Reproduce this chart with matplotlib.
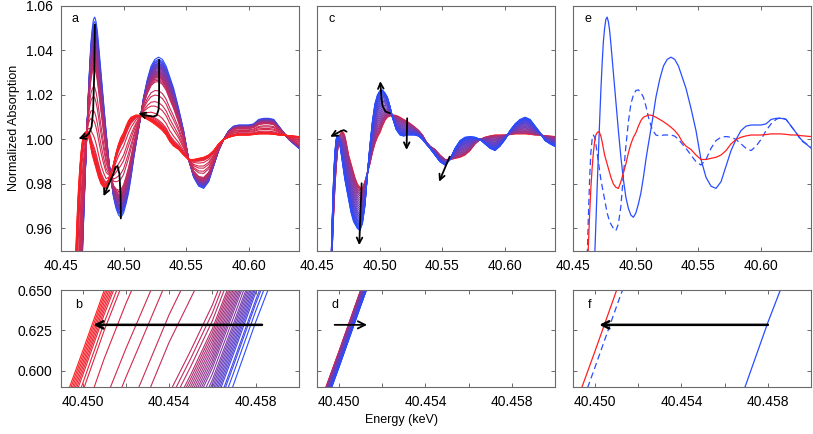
import numpy as np
import matplotlib
matplotlib.use("Agg")
import matplotlib.pyplot as plt

plt.rcParams.update({"font.family": ["Liberation Sans", "DejaVu Sans"], "font.size": 10})

# energy grid (keV) shared by the three reference spectra
E_KEV = [40.440, 40.445, 40.447, 40.448, 40.449, 40.450, 40.451, 40.452, 40.453, 40.454,
         40.455, 40.456, 40.457, 40.458, 40.459, 40.460, 40.461, 40.462, 40.463, 40.464,
         40.465, 40.466, 40.467, 40.468, 40.469, 40.470, 40.471, 40.472, 40.473, 40.474,
         40.475, 40.476, 40.477, 40.478, 40.479, 40.480, 40.482, 40.484, 40.486, 40.488,
         40.490, 40.492, 40.494, 40.496, 40.498, 40.500, 40.502, 40.504, 40.506, 40.508,
         40.510, 40.513, 40.516, 40.519, 40.522, 40.525, 40.528, 40.531, 40.534, 40.537,
         40.540, 40.544, 40.548, 40.552, 40.556, 40.560, 40.564, 40.568, 40.572, 40.576,
         40.580, 40.584, 40.588, 40.592, 40.596, 40.600, 40.604, 40.608, 40.612, 40.616,
         40.620, 40.624, 40.628, 40.632, 40.636, 40.640]

# first spectrum (solid blue)
spec_start = [0.10, 0.20, 0.26, 0.29, 0.33, 0.36, 0.40, 0.43, 0.465, 0.50,
              0.525, 0.555, 0.592, 0.630, 0.665, 0.700, 0.740, 0.780, 0.820, 0.860,
              0.895, 0.925, 0.946, 0.962, 0.978, 0.993, 1.008, 1.022, 1.034, 1.044,
              1.050, 1.054, 1.055, 1.053, 1.049, 1.043, 1.030, 1.017, 1.004, 0.992,
              0.982, 0.974, 0.969, 0.966, 0.965, 0.967, 0.971, 0.976, 0.983, 0.991,
              0.998, 1.008, 1.019, 1.027, 1.033, 1.036, 1.037, 1.036, 1.033, 1.028,
              1.023, 1.014, 1.004, 0.991, 0.983, 0.979, 0.978, 0.981, 0.988, 0.995,
              1.000, 1.004, 1.006, 1.0065, 1.0065, 1.0065, 1.007, 1.009, 1.0095, 1.0095,
              1.009, 1.006, 1.003, 1.000, 0.998, 0.996]
# intermediate spectrum (red)
spec_mid = [0.25, 0.40, 0.47, 0.52, 0.575, 0.612, 0.650, 0.685, 0.715, 0.745,
            0.775, 0.800, 0.830, 0.858, 0.886, 0.912, 0.934, 0.952, 0.966, 0.978,
            0.987, 0.994, 0.999, 1.002, 1.003, 1.0035, 1.003, 1.0015, 0.999, 0.996,
            0.993, 0.991, 0.989, 0.987, 0.985, 0.983, 0.980, 0.9785, 0.978, 0.981,
            0.985, 0.989, 0.994, 0.998, 1.001, 1.003, 1.006, 1.0085, 1.010, 1.0105,
            1.011, 1.0108, 1.010, 1.009, 1.008, 1.0068, 1.0055, 1.004, 1.002, 0.999,
            0.997, 0.9955, 0.993, 0.991, 0.991, 0.9915, 0.992, 0.993, 0.995, 0.998,
            1.000, 1.001, 1.0016, 1.002, 1.002, 1.002, 1.0022, 1.0025, 1.0025, 1.0025,
            1.0023, 1.002, 1.002, 1.0017, 1.0015, 1.0013]
# final spectrum (dashed blue)
spec_end = [0.24, 0.39, 0.46, 0.51, 0.565, 0.602, 0.640, 0.677, 0.710, 0.742,
            0.773, 0.803, 0.833, 0.862, 0.890, 0.922, 0.945, 0.965, 0.982, 0.994,
            1.000, 1.002, 1.001, 0.998, 0.994, 0.990, 0.986, 0.982, 0.979, 0.976,
            0.973, 0.970, 0.967, 0.965, 0.963, 0.962, 0.960, 0.959, 0.962, 0.970,
            0.984, 0.997, 1.008, 1.016, 1.020, 1.022, 1.0223, 1.021, 1.019, 1.015,
            1.010, 1.0045, 1.002, 1.0015, 1.002, 1.002, 1.002, 1.0015, 1.000, 0.998,
            0.996, 0.993, 0.990, 0.9885, 0.991, 0.996, 0.9995, 1.001, 1.0013, 1.001,
            1.000, 0.998, 0.996, 0.995, 0.997, 1.000, 1.004, 1.007, 1.009, 1.010,
            1.009, 1.006, 1.003, 0.9995, 0.998, 0.9968]

# fraction of the second component in each time step (read from edge positions)
frac_a = [0.0, 0.03, 0.05, 0.06, 0.08, 0.09, 0.10, 0.11, 0.12, 0.13, 0.14, 0.15, 0.16,
          0.175, 0.19, 0.20, 0.21, 0.22, 0.23, 0.24, 0.25, 0.26, 0.27, 0.28, 0.29, 0.31,
          0.33, 0.35, 0.48, 0.55, 0.65, 0.72, 0.83, 0.90, 0.92, 0.94, 0.95, 0.96, 0.97,
          0.98, 0.99, 1.0]
frac_c = [0.0, 0.02, 0.05, 0.08, 0.12, 0.16, 0.20, 0.25, 0.30, 0.35, 0.40, 0.45, 0.50,
          0.55, 0.60, 0.64, 0.68, 0.72, 0.76, 0.80, 0.83, 0.86, 0.89, 0.92, 0.94, 0.96,
          0.98, 1.0]
# how fast the line colour moves between the two end colours
ramp_a = 0.8
ramp_c = 0.45

# arrow paths (energy, absorption)
ARROWS_A = [[(40.4771, 1.0516), (40.4766, 1.030), (40.4757, 1.013), (40.4745, 1.0058),
             (40.4725, 1.0027), (40.4700, 1.0015), (40.4640, 1.0003)],
            [(40.4978, 0.9645), (40.4976, 0.975), (40.4967, 0.9845), (40.4952, 0.9880),
             (40.4936, 0.9876), (40.4915, 0.9840), (40.4840, 0.9745)],
            [(40.5284, 1.0358), (40.5284, 1.020), (40.5280, 1.0135), (40.5265, 1.0108),
             (40.5236, 1.0103), (40.5180, 1.0108), (40.5118, 1.0118)]]
ARROWS_C = [[(40.4734, 1.0035), (40.4712, 1.0042), (40.4690, 1.0038), (40.4603, 1.0012)],
            [(40.4854, 0.9803), (40.4835, 0.9525)],
            [(40.5080, 1.0118), (40.5045, 1.0125), (40.5022, 1.0150), (40.5013, 1.0180),
             (40.5003, 1.0262)],
            [(40.5218, 1.0095), (40.5213, 0.9953)],
            [(40.5558, 0.9923), (40.5473, 0.9810)]]
EDGE_Y = 0.6285
EDGE_ARROW_B = (40.4583, 40.4505)
EDGE_ARROW_D = (40.4498, 40.4513)
EDGE_ARROW_F = (40.4580, 40.4502)

BLUE = np.array([0.16, 0.30, 1.0])
RED = np.array([1.0, 0.12, 0.12])
FRAME = "#6a6a6a"

E = np.array(E_KEV)
S0, S1, S2 = np.array(spec_start), np.array(spec_mid), np.array(spec_end)


def series(ax, s_from, s_to, fracs, c_from, c_to, ramp):
    n = len(fracs)
    for i, f in enumerate(fracs):
        t = (i / (n - 1)) ** ramp
        col = (1 - t) * c_from + t * c_to
        ax.plot(E, (1 - f) * s_from + f * s_to, color=col, lw=0.8)


def style(ax, top, show_y):
    for sp in ax.spines.values():
        sp.set_color(FRAME); sp.set_linewidth(0.8)
    ax.tick_params(direction="in", top=True, right=True, length=3, width=0.7,
                   color=FRAME, labelsize=10, pad=6)
    if top:
        ax.set_xlim(40.45, 40.64); ax.set_ylim(0.95, 1.06)
        ax.set_xticks([40.45, 40.50, 40.55, 40.60])
        ax.set_xticklabels(["40.45", "40.50", "40.55", "40.60"])
        ax.set_yticks([0.96, 0.98, 1.00, 1.02, 1.04, 1.06])
        ax.set_yticklabels(["0.96", "0.98", "1.00", "1.02", "1.04", "1.06"] if show_y else [])
    else:
        ax.set_xlim(40.449, 40.460); ax.set_ylim(0.59, 0.65)
        ax.set_xticks([40.450, 40.452, 40.454, 40.456, 40.458])
        ax.set_xticklabels(["40.450", "", "40.454", "", "40.458"])
        ax.set_yticks([0.600, 0.625, 0.650])
        ax.set_yticklabels(["0.600", "0.625", "0.650"] if show_y else [])


def curved_arrow(ax, pts, lw=1.3):
    xs, ys = zip(*pts)
    ax.plot(xs[:-1], ys[:-1], color="black", lw=lw, solid_capstyle="round")
    ax.annotate("", xy=pts[-1], xytext=pts[-2],
                arrowprops=dict(arrowstyle="->", color="black", lw=lw, mutation_scale=10,
                                shrinkA=0, shrinkB=0))


def edge_arrow(ax, x0, x1, lw=1.8):
    ax.annotate("", xy=(x1, EDGE_Y), xytext=(x0, EDGE_Y),
                arrowprops=dict(arrowstyle="->", color="black", lw=lw, mutation_scale=13,
                                shrinkA=0, shrinkB=0))


fig = plt.figure(figsize=(8.13, 4.34), dpi=100)
W = 0.2925
lefts = [0.0750, 0.3903, 0.7052]
tops = [fig.add_axes([l, 0.4224, W, 0.5638]) for l in lefts]
bots = [fig.add_axes([l, 0.1090, W, 0.2221]) for l in lefts]

# a / b : blue -> red
for ax in (tops[0], bots[0]):
    series(ax, S0, S1, frac_a, BLUE, RED, ramp_a)
# c / d : red -> blue
for ax in (tops[1], bots[1]):
    series(ax, S1, S2, frac_c, RED, BLUE, ramp_c)
# e / f : the three end members
for ax in (tops[2], bots[2]):
    ax.plot(E, S0, color=BLUE, lw=0.9)
    ax.plot(E, S2, color=BLUE, lw=0.9, ls=(0, (5, 3)))
    ax.plot(E, S1, color=RED, lw=0.9)

for pts in ARROWS_A:
    curved_arrow(tops[0], pts)
for pts in ARROWS_C:
    curved_arrow(tops[1], pts)
edge_arrow(bots[0], *EDGE_ARROW_B)
edge_arrow(bots[1], *EDGE_ARROW_D, lw=1.3)
edge_arrow(bots[2], *EDGE_ARROW_F)

for i, ax in enumerate(tops):
    style(ax, True, i == 0)
for i, ax in enumerate(bots):
    style(ax, False, i == 0)

for ax, lab in zip(tops, "ace"):
    ax.text(0.045, 0.945, lab, transform=ax.transAxes, fontsize=9, va="center")
for ax, lab in zip(bots, "bdf"):
    ax.text(0.06, 0.85, lab, transform=ax.transAxes, fontsize=9, va="center")

tops[0].set_ylabel("Normalized Absorption", fontsize=9, labelpad=4)
fig.text(0.494, 0.032, "Energy (keV)", ha="center", va="center", fontsize=9)

fig.savefig("out.png", dpi=100)
